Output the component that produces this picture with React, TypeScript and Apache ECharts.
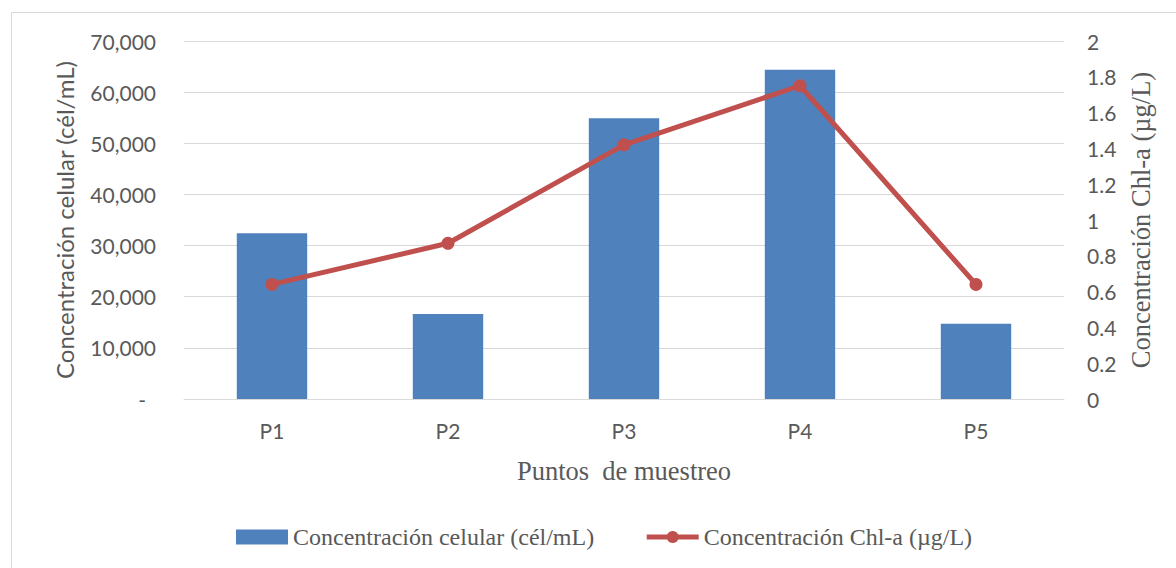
import React, { useEffect, useRef } from "react";
import * as echarts from "echarts";

const categories = ["P1", "P2", "P3", "P4", "P5"];
const cellValues = [32400, 16600, 54900, 64400, 14700];
const chlValues = [0.64, 0.87, 1.42, 1.75, 0.64];

const barName = "Concentración celular (cél/mL)";
const lineName = "Concentración Chl-a (µg/L)";
const xTitle = "Puntos  de muestreo";

const SANS = "Lato, 'Open Sans', sans-serif";
const SERIF = "'Liberation Serif', 'DejaVu Serif', serif";
const GREY = "#595959";
const BLUE = "#4F81BD";
const RED = "#C0504D";

export default function App() {
  const ref = useRef<HTMLDivElement>(null);
  useEffect(() => {
    if (!ref.current) return;
    const chart = echarts.init(ref.current, undefined, { renderer: "svg" });
    chart.setOption({
      animation: false,
      backgroundColor: "#ffffff",
      graphic: [
        {
          type: "rect",
          shape: { x: 11.5, y: 12.5, width: 1300, height: 700 },
          style: { fill: "none", stroke: "#d9d9d9", lineWidth: 1 },
          silent: true,
          z: -10,
        },
      ],
      grid: { left: 184, right: 112, top: 41, bottom: 169, containLabel: false },
      legend: {
        top: 520,
        left: 231,
        itemGap: 50,
        itemWidth: 52,
        itemHeight: 15,
        textStyle: { fontFamily: SERIF, fontSize: 24, color: GREY },
        data: [
          { name: barName, icon: "rect", itemStyle: { color: BLUE } },
          {
            name: lineName,
            lineStyle: { width: 5, color: RED },
            itemStyle: { color: RED },
          },
        ],
      },
      xAxis: {
        type: "category",
        data: categories,
        name: xTitle,
        nameLocation: "middle",
        nameGap: 58,
        nameTextStyle: { fontFamily: SERIF, fontSize: 26.5, color: GREY },
        axisLine: { lineStyle: { color: "#d9d9d9", width: 1 } },
        axisTick: { show: false },
        axisLabel: { fontFamily: SANS, fontSize: 21, color: GREY, margin: 21 },
      },
      yAxis: [
        {
          type: "value",
          min: 0,
          max: 70000,
          interval: 10000,
          name: barName,
          nameLocation: "middle",
          nameRotate: 90,
          nameGap: 108,
          nameTextStyle: { fontFamily: SANS, fontSize: 24, color: GREY },
          axisLine: { show: false },
          axisTick: { show: false },
          splitLine: { lineStyle: { color: "#d9d9d9", width: 1 } },
          axisLabel: {
            fontFamily: SANS,
            fontSize: 21,
            color: GREY,
            margin: 28,
            formatter: (v: number) => (v === 0 ? "{d|-}" : v.toLocaleString("en-US")),
            rich: { d: { fontFamily: SANS, fontSize: 21, color: GREY, padding: [0, 10, 0, 0] } },
          },
        },
        {
          type: "value",
          min: 0,
          max: 2,
          interval: 0.2,
          position: "right",
          name: lineName,
          nameLocation: "middle",
          nameRotate: 90,
          nameGap: 63,
          nameTextStyle: { fontFamily: SERIF, fontSize: 26.5, color: GREY },
          axisLine: { show: false },
          axisTick: { show: false },
          splitLine: { show: false },
          axisLabel: {
            fontFamily: SANS,
            fontSize: 21,
            color: GREY,
            margin: 23,
            formatter: (v: number) => String(+v.toFixed(1)),
          },
        },
      ],
      series: [
        {
          name: barName,
          type: "bar",
          data: cellValues,
          barWidth: "40%",
          itemStyle: { color: BLUE },
          yAxisIndex: 0,
        },
        {
          name: lineName,
          type: "line",
          data: chlValues,
          yAxisIndex: 1,
          symbol: "circle",
          symbolSize: 13,
          lineStyle: { color: RED, width: 5 },
          itemStyle: { color: RED },
        },
      ],
    });
    return () => chart.dispose();
  }, []);
  return (
    <div
      ref={ref}
      style={{ position: "absolute", left: 0, top: 0, width: 1176, height: 568 }}
    />
  );
}
